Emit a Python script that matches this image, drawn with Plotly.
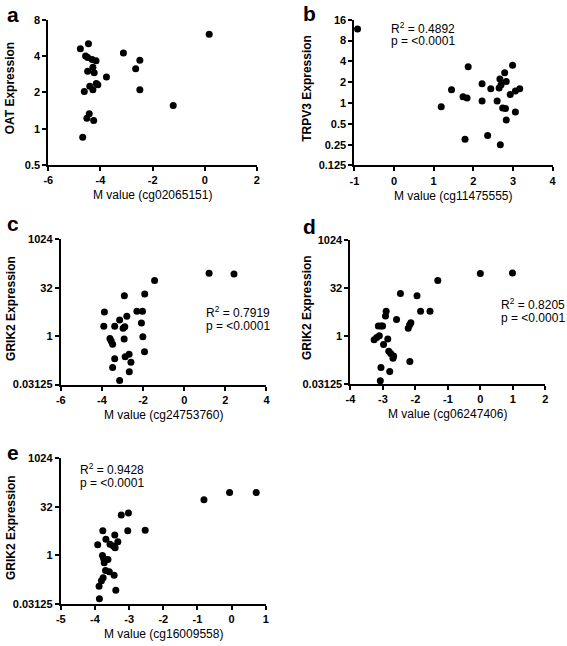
import math
import plotly.graph_objects as go

W, H = 567, 646

# ---------------- data ----------------
a_x = [0.17, -4.77, -4.46, -4.57, -4.49, -4.32, -4.17, -3.12, -2.49, -2.65, -4.49, -4.29,
       -4.24, -3.77, -4.16, -4.10, -4.41, -4.29, -4.62, -2.49, -1.21, -4.43, -4.52, -4.26, -4.68]
a_y = [6.06, 4.6, 5.06, 4.0, 3.89, 3.75, 3.65, 4.23, 3.7, 3.14, 2.99, 3.23,
       2.91, 2.68, 2.37, 2.31, 2.25, 2.10, 2.03, 2.10, 1.56, 1.33, 1.22, 1.17, 0.85]

b_x = [-0.92, 1.87, 2.99, 2.79, 2.67, 2.22, 2.83, 2.70, 2.65, 2.44, 1.45, 3.17, 3.06,
       2.93, 1.74, 1.84, 2.22, 2.60, 1.19, 2.74, 2.81, 3.06, 2.83, 1.79, 2.36, 2.68]
b_y = [11.8, 3.34, 3.53, 2.75, 2.23, 1.9, 2.05, 1.84, 1.65, 1.61, 1.56, 1.61, 1.49,
       1.33, 1.23, 1.18, 1.07, 1.07, 0.88, 0.85, 0.83, 0.74, 0.57, 0.30, 0.34, 0.25]

c_x = [1.21, 2.42, -1.44, -1.92, -2.91, -3.88, -2.30, -2.03, -2.79, -3.14, -2.08, -3.91,
       -3.38, -2.97, -2.89, -2.01, -2.92, -3.61, -3.48, -3.55, -1.93, -2.68, -2.87, -3.38,
       -2.59, -3.48, -2.67, -3.14]
c_y = [89.9, 85.6, 53.4, 20.5, 17.9, 5.66, 5.94, 5.94, 4.17, 3.16, 2.55, 2.01,
       2.01, 1.75, 1.97, 0.95, 0.81, 0.85, 0.56, 0.71, 0.325, 0.275, 0.228, 0.199,
       0.154, 0.106, 0.078, 0.0415]

d_x = [0.0, 0.99, -1.31, -2.46, -1.95, -1.84, -1.55, -2.90, -2.92, -2.58, -2.14, -2.18,
       -2.22, -3.14, -3.06, -3.01, -3.11, -3.19, -3.27, -2.85, -2.98, -2.82, -2.76, -2.67,
       -2.69, -2.17, -3.06, -2.79, -3.08]
d_y = [89.9, 94.3, 54.6, 21.3, 18.0, 5.94, 5.94, 5.94, 4.17, 3.23, 2.58, 2.2,
       1.73, 2.04, 2.04, 2.04, 1.0, 0.88, 0.76, 0.80, 0.54, 0.33, 0.28, 0.233,
       0.198, 0.156, 0.102, 0.076, 0.039]

e_x = [0.72, -0.06, -0.81, -3.02, -3.23, -3.77, -3.04, -2.53, -3.42, -3.68, -3.33, -3.92,
       -3.56, -3.46, -3.41, -3.78, -3.75, -3.62, -3.73, -3.69, -3.58, -3.44, -3.76, -3.81,
       -3.39, -3.88, -3.87]
e_y = [88.6, 88.6, 53.1, 20.4, 17.8, 5.78, 5.78, 5.94, 4.29, 3.16, 2.62, 2.13,
       2.19, 1.95, 1.72, 0.99, 0.82, 0.75, 0.59, 0.34, 0.31, 0.243, 0.202, 0.164,
       0.0836, 0.11, 0.0455]

# tick values and labels
xt_a = [-6, -4, -2, 0, 2]
xt_b = [-1, 0, 1, 2, 3, 4]
xt_c = [-6, -4, -2, 0, 2, 4]
xt_d = [-4, -3, -2, -1, 0, 1, 2]
xt_e = [-5, -4, -3, -2, -1, 0, 1]
ticks_a = [0.5, 1, 2, 4, 8]
ticks_b = [0.125, 0.25, 0.5, 1, 2, 4, 8, 16]
ticks_g = [0.03125, 1, 32, 1024]
ticklab_a = ["0.5", "1", "2", "4", "8"]
ticklab_b = ["0.125", "0.25", "0.5", "1", "2", "4", "8", "16"]
ticklab_g = ["0.03125", "1", "32", "1024"]

panels = [
    dict(x=a_x, y=a_y, xr=[-6, 2], xt=xt_a, yt=ticks_a, yl=ticklab_a,
         px=(44, 256), py=(14, 162), xtitle="M value (cg02065151)", ytitle="OAT Expression",
         letter="a", lpos=(0, 9), ytx=6, stats=None),
    dict(x=b_x, y=b_y, xr=[-1, 4], xt=xt_b, yt=ticks_b, yl=ticklab_b,
         px=(355, 556.5), py=(14, 162.5), xtitle="M value (cg11475555)", ytitle="TRPV3 Expression",
         letter="b", lpos=(301, 8), ytx=307, stats=("0.4892", 390, 22)),
    dict(x=c_x, y=c_y, xr=[-6, 4], xt=xt_c, yt=ticks_g, yl=ticklab_g,
         px=(56.7, 265.7), py=(237.7, 385.7), xtitle="M value (cg24753760)", ytitle="GRIK2 Expression",
         letter="c", lpos=(0, 222), ytx=6, stats=("0.7919", 202, 312)),
    dict(x=d_x, y=d_y, xr=[-4, 2], xt=xt_d, yt=ticks_g, yl=ticklab_g,
         px=(351, 549), py=(238.3, 385), xtitle="M value (cg06247406)", ytitle="GRIK2 Expression",
         letter="d", lpos=(301, 225), ytx=307, stats=("0.8205", 502, 304)),
    dict(x=e_x, y=e_y, xr=[-5, 1], xt=xt_e, yt=ticks_g, yl=ticklab_g,
         px=(56.7, 265), py=(460.7, 609.3), xtitle="M value (cg16009558)", ytitle="GRIK2 Expression",
         letter="e", lpos=(0, 455), ytx=6, stats=("0.9428", 74, 472)),
]

FONT = "Liberation Sans, Arial, sans-serif"
fig = go.Figure()
layout = dict(width=W, height=H, margin=dict(l=0, r=0, t=0, b=0),
              paper_bgcolor="white", plot_bgcolor="white", showlegend=False,
              font=dict(family=FONT, color="black"))
annotations = []


def fx(p):
    return p / W


def fy(p):
    return 1 - p / H


for i, p in enumerate(panels, start=1):
    xa = "xaxis" if i == 1 else f"xaxis{i}"
    ya = "yaxis" if i == 1 else f"yaxis{i}"
    xr = "x" if i == 1 else f"x{i}"
    yr = "y" if i == 1 else f"y{i}"
    fig.add_trace(go.Scatter(x=p["x"], y=p["y"], mode="markers", xaxis=xr, yaxis=yr,
                             marker=dict(color="black", size=7), cliponaxis=False))
    common = dict(showline=True, linewidth=2, linecolor="black", ticks="outside",
                  ticklen=4, tickwidth=2, tickcolor="black", showgrid=False, zeroline=False,
                  tickfont=dict(family=FONT, size=11, color="black", weight="bold"))
    layout[xa] = dict(common, domain=[fx(p["px"][0]), fx(p["px"][1])], range=p["xr"],
                      tickmode="array", tickvals=p["xt"],
                      ticktext=[str(v) for v in p["xt"]], anchor=yr)
    layout[ya] = dict(common, domain=[fy(p["py"][1]), fy(p["py"][0])], type="log",
                      range=[math.log10(p["yt"][0]), math.log10(p["yt"][-1])],
                      tickmode="array", tickvals=p["yt"], ticktext=p["yl"], anchor=xr)
    annotations.append(dict(text=p["xtitle"], xref="paper", yref="paper",
                            x=fx((p["px"][0] + p["px"][1]) / 2), y=fy(p["py"][1] + 31),
                            xanchor="center", yanchor="middle", showarrow=False,
                            font=dict(family=FONT, size=12)))
    annotations.append(dict(text=p["ytitle"], xref="paper", yref="paper",
                            x=fx(p["ytx"]), y=fy((p["py"][0] + p["py"][1]) / 2 - 4),
                            xanchor="center", yanchor="middle", textangle=-90, showarrow=False,
                            font=dict(family=FONT, size=12, weight="bold")))
    annotations.append(dict(text=p["letter"], xref="paper", yref="paper",
                            x=fx(p["lpos"][0]), y=fy(p["lpos"][1]),
                            xanchor="left", yanchor="middle", showarrow=False,
                            font=dict(family=FONT, size=21, weight="bold")))
    if p["stats"]:
        r2, sx, sy = p["stats"]
        annotations.append(dict(text=f"R<sup>2</sup> = {r2}", xref="paper", yref="paper",
                                x=fx(sx), y=fy(sy), xanchor="left", yanchor="middle",
                                showarrow=False, font=dict(family=FONT, size=12)))
        annotations.append(dict(text="p = <0.0001", xref="paper", yref="paper",
                                x=fx(sx), y=fy(sy + 14), xanchor="left", yanchor="middle",
                                showarrow=False, font=dict(family=FONT, size=12)))

layout["annotations"] = annotations
fig.update_layout(**layout)
fig.write_html("out.html", config={"displayModeBar": False},
               post_script="document.body.style.margin='0';document.body.style.overflow='hidden';")
